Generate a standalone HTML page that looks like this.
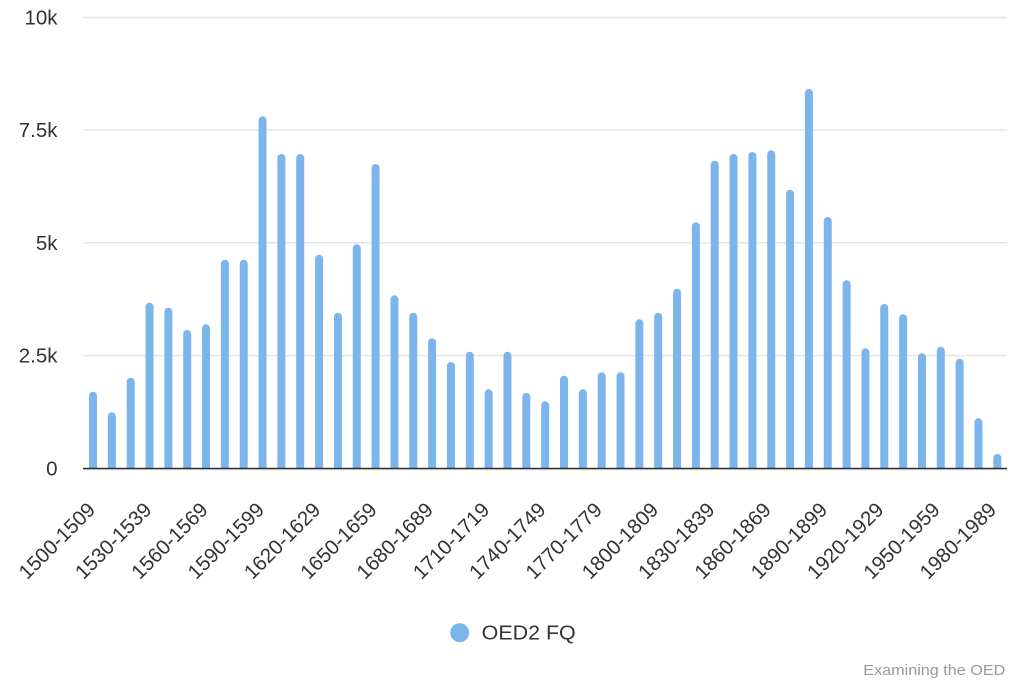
<!DOCTYPE html>
<html>
<head>
<meta charset="utf-8">
<style>
html,body{margin:0;padding:0;background:#fff;}
svg{display:block;}
text{font-family:"Liberation Sans",Arial,sans-serif;}
</style>
</head>
<body>
<svg width="1024" height="683" viewBox="0 0 1024 683" xmlns="http://www.w3.org/2000/svg">
<rect width="1024" height="683" fill="#fff"/>
<defs>
<clipPath id="plot"><rect x="80" y="0" width="940" height="468.5"/></clipPath>
</defs>
<g stroke="#e6e6e6" stroke-width="1.5">
<line x1="83" y1="17.5" x2="1007" y2="17.5"/>
<line x1="83" y1="130" x2="1007" y2="130"/>
<line x1="83" y1="242.8" x2="1007" y2="242.8"/>
<line x1="83" y1="355.6" x2="1007" y2="355.6"/>
</g>
<g font-size="20.5" fill="#333" text-anchor="end">
<text x="57.5" y="24.5">10k</text>
<text x="57.5" y="137">7.5k</text>
<text x="57.5" y="249.8">5k</text>
<text x="57.5" y="362.6">2.5k</text>
<text x="57.5" y="475.5">0</text>
</g>
<g fill="#7cb5ec" clip-path="url(#plot)">
<rect x="89" y="391.7" width="8" height="82" rx="4"/>
<rect x="107.84" y="412.3" width="8" height="62" rx="4"/>
<rect x="126.68" y="377.7" width="8" height="96" rx="4"/>
<rect x="145.52" y="302.7" width="8" height="171" rx="4"/>
<rect x="164.36" y="307.7" width="8" height="166" rx="4"/>
<rect x="183.2" y="330" width="8" height="144" rx="4"/>
<rect x="202.04" y="324.3" width="8" height="150" rx="4"/>
<rect x="220.88" y="259.7" width="8" height="214" rx="4"/>
<rect x="239.72" y="259.7" width="8" height="214" rx="4"/>
<rect x="258.56" y="116.3" width="8" height="358" rx="4"/>
<rect x="277.4" y="154" width="8" height="320" rx="4"/>
<rect x="296.24" y="154" width="8" height="320" rx="4"/>
<rect x="315.08" y="254.7" width="8" height="219" rx="4"/>
<rect x="333.92" y="312.7" width="8" height="161" rx="4"/>
<rect x="352.76" y="244.3" width="8" height="230" rx="4"/>
<rect x="371.6" y="164" width="8" height="310" rx="4"/>
<rect x="390.44" y="295.3" width="8" height="179" rx="4"/>
<rect x="409.28" y="312.7" width="8" height="161" rx="4"/>
<rect x="428.12" y="338.3" width="8" height="136" rx="4"/>
<rect x="446.96" y="362" width="8" height="112" rx="4"/>
<rect x="465.8" y="351.7" width="8" height="122" rx="4"/>
<rect x="484.64" y="389.3" width="8" height="85" rx="4"/>
<rect x="503.48" y="351.7" width="8" height="122" rx="4"/>
<rect x="522.32" y="393" width="8" height="81" rx="4"/>
<rect x="541.16" y="401.3" width="8" height="73" rx="4"/>
<rect x="560" y="375.7" width="8" height="98" rx="4"/>
<rect x="578.84" y="389.3" width="8" height="85" rx="4"/>
<rect x="597.68" y="372.3" width="8" height="102" rx="4"/>
<rect x="616.52" y="372.3" width="8" height="102" rx="4"/>
<rect x="635.36" y="319.3" width="8" height="155" rx="4"/>
<rect x="654.2" y="312.7" width="8" height="161" rx="4"/>
<rect x="673.04" y="288.7" width="8" height="185" rx="4"/>
<rect x="691.88" y="222.3" width="8" height="252" rx="4"/>
<rect x="710.72" y="160.7" width="8" height="313" rx="4"/>
<rect x="729.56" y="154" width="8" height="320" rx="4"/>
<rect x="748.4" y="152" width="8" height="322" rx="4"/>
<rect x="767.24" y="150.3" width="8" height="324" rx="4"/>
<rect x="786.08" y="189.7" width="8" height="284" rx="4"/>
<rect x="804.92" y="89" width="8" height="385" rx="4"/>
<rect x="823.76" y="217" width="8" height="257" rx="4"/>
<rect x="842.6" y="280.3" width="8" height="194" rx="4"/>
<rect x="861.44" y="348.3" width="8" height="126" rx="4"/>
<rect x="880.28" y="304" width="8" height="170" rx="4"/>
<rect x="899.12" y="314.3" width="8" height="160" rx="4"/>
<rect x="917.96" y="353.3" width="8" height="121" rx="4"/>
<rect x="936.8" y="346.7" width="8" height="127" rx="4"/>
<rect x="955.64" y="358.7" width="8" height="115" rx="4"/>
<rect x="974.48" y="418.3" width="8" height="56" rx="4"/>
<rect x="993.32" y="454" width="8" height="20" rx="4"/>
</g>
<line x1="83" y1="468.6" x2="1007" y2="468.6" stroke="#333" stroke-width="1.6"/>
<g font-size="20.5" fill="#333" text-anchor="end">
<text x="96.5" y="511" transform="rotate(-45 96.5 511)">1500-1509</text>
<text x="152.81" y="511" transform="rotate(-45 152.81 511)">1530-1539</text>
<text x="209.12" y="511" transform="rotate(-45 209.12 511)">1560-1569</text>
<text x="265.43" y="511" transform="rotate(-45 265.43 511)">1590-1599</text>
<text x="321.74" y="511" transform="rotate(-45 321.74 511)">1620-1629</text>
<text x="378.05" y="511" transform="rotate(-45 378.05 511)">1650-1659</text>
<text x="434.36" y="511" transform="rotate(-45 434.36 511)">1680-1689</text>
<text x="490.67" y="511" transform="rotate(-45 490.67 511)">1710-1719</text>
<text x="546.98" y="511" transform="rotate(-45 546.98 511)">1740-1749</text>
<text x="603.29" y="511" transform="rotate(-45 603.29 511)">1770-1779</text>
<text x="659.6" y="511" transform="rotate(-45 659.6 511)">1800-1809</text>
<text x="715.91" y="511" transform="rotate(-45 715.91 511)">1830-1839</text>
<text x="772.22" y="511" transform="rotate(-45 772.22 511)">1860-1869</text>
<text x="828.53" y="511" transform="rotate(-45 828.53 511)">1890-1899</text>
<text x="884.84" y="511" transform="rotate(-45 884.84 511)">1920-1929</text>
<text x="941.15" y="511" transform="rotate(-45 941.15 511)">1950-1959</text>
<text x="997.46" y="511" transform="rotate(-45 997.46 511)">1980-1989</text>
</g>
<circle cx="459.7" cy="632.7" r="9.5" fill="#7cb5ec"/>
<text x="481.7" y="639.3" font-size="20" fill="#333" textLength="94" lengthAdjust="spacingAndGlyphs">OED2 FQ</text>
<text x="863.3" y="675" font-size="15" fill="#999" textLength="142" lengthAdjust="spacingAndGlyphs">Examining the OED</text>
</svg>
</body>
</html>
